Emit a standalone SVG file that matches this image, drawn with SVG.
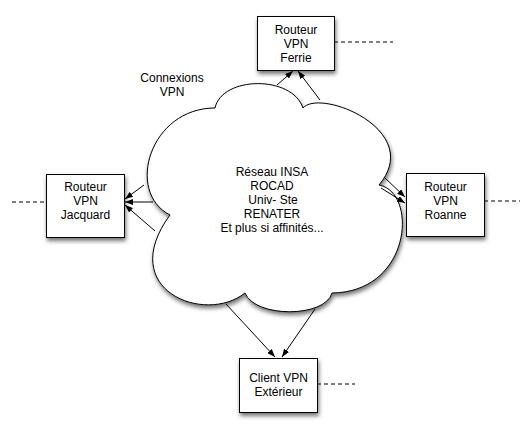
<svg xmlns="http://www.w3.org/2000/svg" width="529" height="436" viewBox="0 0 529 436">
<defs>
<style>
.t{font-family:"Liberation Sans",Arial,sans-serif;font-size:12px;fill:#000;text-anchor:middle}
.box{fill:#fff;stroke:#000;stroke-width:1;filter:url(#sh)}
.cloud{fill:#fff;stroke:#000;stroke-width:1;filter:url(#sh)}
.ln{stroke:#000;stroke-width:1;fill:none;marker-end:url(#ah)}
.dash{stroke:#000;stroke-width:1;stroke-dasharray:4 3;fill:none}
</style>
<filter id="sh" x="-20%" y="-20%" width="140%" height="140%">
<feDropShadow dx="1" dy="3" stdDeviation="2" flood-color="#000" flood-opacity="0.55"/>
</filter>
<marker id="ah" markerUnits="userSpaceOnUse" viewBox="0 0 8 6" refX="8" refY="3" markerWidth="8" markerHeight="6" orient="auto">
<path d="M0,0 L8,3 L0,6 z" fill="#000"/>
</marker>
</defs>
<rect width="529" height="436" fill="#fff"/>
<g id="cloud">
<path class="cloud" d="M215,108 C222,76 292,75 303,108 C320,88 425,130 379,185 C418,192 412,292 332,293 C325,318 255,318 245,293 C205,325 115,290 170,215 C125,192 150,108 215,108 Z"/>
<text class="t" x="272" y="176">Réseau INSA</text>
<text class="t" x="272" y="190">ROCAD</text>
<text class="t" x="273" y="204">Univ- Ste</text>
<text class="t" x="272" y="218">RENATER</text>
<text class="t" x="272" y="232">Et plus si affinités...</text>
</g>
<g id="label-connexions">
<text class="t" x="172" y="82">Connexions</text>
<text class="t" x="172" y="96">VPN</text>
</g>
<g id="connectors">
<line class="ln" x1="277" y1="85" x2="293" y2="71"/>
<line class="ln" x1="320" y1="100" x2="298" y2="71"/>
<line class="ln" x1="144" y1="185" x2="125" y2="199"/>
<line class="ln" x1="153" y1="202" x2="125" y2="202"/>
<line class="ln" x1="155" y1="231" x2="125" y2="205"/>
<line class="ln" x1="385" y1="178" x2="405" y2="197"/>
<line class="ln" x1="381" y1="188" x2="405" y2="203"/>
<line class="ln" x1="226" y1="304" x2="275" y2="357"/>
<line class="ln" x1="315" y1="309" x2="282" y2="357"/>
<line class="dash" x1="334" y1="42" x2="393" y2="42"/>
<line class="dash" x1="12" y1="202" x2="46" y2="202"/>
<line class="dash" x1="484" y1="201" x2="520" y2="201"/>
<line class="dash" x1="317" y1="384" x2="355" y2="384"/>
</g>
<g id="ferrie">
<rect class="box" x="257.5" y="16.5" width="77" height="54"/>
<text class="t" x="296" y="34">Routeur</text>
<text class="t" x="296" y="48">VPN</text>
<text class="t" x="296" y="62">Ferrie</text>
</g>
<g id="jacquard">
<rect class="box" x="46.5" y="174.5" width="78" height="63"/>
<text class="t" x="85.5" y="191">Routeur</text>
<text class="t" x="85.5" y="205">VPN</text>
<text class="t" x="85.5" y="219">Jacquard</text>
</g>
<g id="roanne">
<rect class="box" x="406.5" y="173.5" width="78" height="63"/>
<text class="t" x="445.5" y="191">Routeur</text>
<text class="t" x="445.5" y="205">VPN</text>
<text class="t" x="445.5" y="219">Roanne</text>
</g>
<g id="client">
<rect class="box" x="239.5" y="358.5" width="78" height="54"/>
<text class="t" x="278.5" y="382">Client VPN</text>
<text class="t" x="278.5" y="396">Extérieur</text>
</g>
</svg>
